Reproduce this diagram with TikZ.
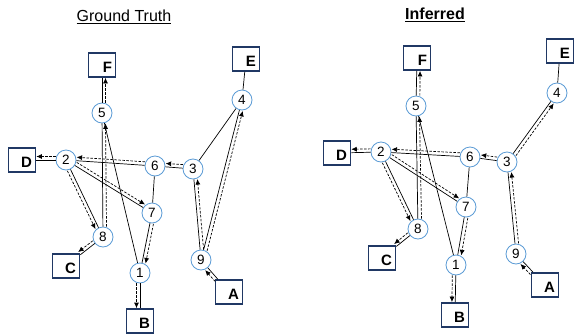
\documentclass[tikz,border=0pt]{standalone}
\usepackage{fontspec}
\setmainfont{Liberation Sans}
\usepackage{xcolor}
\usetikzlibrary{arrows.meta}
\usetikzlibrary{calc}

\definecolor{boxblue}{HTML}{203864}
\definecolor{nodeblue}{HTML}{5B9BD5}

% dashed arrow beside the plain link, #1 picks the side
\newcommand{\flow}[3][-90]{%
  \pgfpointdiff{\pgfpointanchor{#2}{center}}{\pgfpointanchor{#3}{center}}%
  \pgfgetlastxy{\flowdx}{\flowdy}%
  \pgfmathsetmacro{\flowang}{atan2(\flowdy,\flowdx)}%
  \pgfmathsetmacro{\flowback}{\flowang+180}%
  \draw[arrow-flow] ([shift={(\flowang#1:3.5pt)}]#2.\flowang)
    -- ([shift={(\flowang#1:3.5pt)}]#3.\flowback);
}

\begin{document}
\begin{tikzpicture}
  [
    x = 1pt, y = -1pt,
    var/.style = {circle, draw = nodeblue, line width = 0.8pt, fill = white,
                  minimum size = 20pt, inner sep = 0pt,
                  font = \fontsize{13.5}{13.5}\selectfont},
    obs/.style = {rectangle, draw = boxblue, line width = 1.7pt, fill = white,
                  minimum height = 24pt, text width = 20pt, inner xsep = 3.5pt,
                  inner ysep = 0pt, text height = 14pt, text depth = 0pt,
                  align = right,
                  font = \fontsize{15}{15}\selectfont\bfseries},
    title/.style = {font = \fontsize{16}{16}\selectfont},
    link/.style = {line width = 0.7pt},
    arrow/.style = {> = {Latex[length = 5.5pt, width = 5pt]}, line width = 0.7pt},
    arrow-flow/.style = {arrow, ->, dash pattern = on 2.5pt off 1.5pt},
  ]
  \useasboundingbox (0,0) rectangle (574,333);

  % ground truth
  \node[title] (gt_title) at (124,17) {\underline{Ground Truth}};
  \node[obs] (gF) at (102,65) {F};
  \node[obs] (gE) at (246,59) {E};
  \node[obs] (gD) at (22,160) {D};
  \node[obs] (gC) at (66,266) {C};
  \node[obs] (gB) at (140,321) {B};
  \node[obs] (gA) at (229,292) {A};
  \node[var] (g4) at (242,100) {4};
  \node[var] (g5) at (102,113) {5};
  \node[var] (g2) at (66,160) {2};
  \node[var] (g6) at (155,166) {6};
  \node[var] (g3) at (193,169) {3};
  \node[var] (g7) at (152,213) {7};
  \node[var] (g8) at (103,237) {8};
  \node[var] (g1) at (140,273) {1};
  \node[var] (g9) at (201,260) {9};

  \draw[link] (gA) -- (g9);  \flow[+90]{gA}{g9}
  \draw[link] (g9) -- (g3);  \flow{g9}{g3}
  \draw[link] (g9) -- (g4);  \flow{g9}{g4}
  \draw[link] (g3) -- (g4);
  \draw[link] (g4) -- (gE);
  \draw[link] (g3) -- (g6);  \flow{g3}{g6}
  \draw[link] (g6) -- (g2);  \flow{g6}{g2}
  \draw[link] (g2) -- (gD);  \flow{g2}{gD}
  \draw[link] (g2) -- (g7);  \flow[+90]{g2}{g7}
  \draw[link] (g2) -- (g8);  \flow{g2}{g8}
  \draw[link] (g6) -- (g7);
  \draw[link] (g7) -- (g1);  \flow[+90]{g7}{g1}
  \draw[link] (g1) -- (gB);  \flow{g1}{gB}
  \draw[link] (g1) -- (g5);
  \draw[link] (g8) -- (g5);  \flow{g8}{g5}
  \draw[link] (g5) -- (gF);  \flow{g5}{gF}
  \draw[link] (g8) -- (gC);  \flow{g8}{gC}

  % inferred
  \node[title] (inf_title) at (435,15) {\bfseries\underline{Inferred}};
  \node[obs] (iF) at (417,58) {F};
  \node[obs] (iE) at (560,51) {E};
  \node[obs] (iD) at (337,153) {D};
  \node[obs] (iC) at (382,258) {C};
  \node[obs] (iB) at (455,315) {B};
  \node[obs] (iA) at (545,285) {A};
  \node[var] (i4) at (557,93) {4};
  \node[var] (i5) at (416,106) {5};
  \node[var] (i2) at (381,152) {2};
  \node[var] (i6) at (470,157) {6};
  \node[var] (i3) at (507,162) {3};
  \node[var] (i7) at (466,207) {7};
  \node[var] (i8) at (418,229) {8};
  \node[var] (i1) at (456,265) {1};
  \node[var] (i9) at (516,254) {9};

  \draw[link] (iA) -- (i9);  \flow[+90]{iA}{i9}
  \draw[link] (i9) -- (i3);  \flow{i9}{i3}
  \draw[link] (i3) -- (i4);  \flow{i3}{i4}
  \draw[link] (i4) -- (iE);
  \draw[link] (i3) -- (i6);  \flow{i3}{i6}
  \draw[link] (i6) -- (i2);  \flow{i6}{i2}
  \draw[link] (i2) -- (iD);  \flow{i2}{iD}
  \draw[link] (i2) -- (i7);  \flow[+90]{i2}{i7}
  \draw[link] (i2) -- (i8);  \flow{i2}{i8}
  \draw[link] (i6) -- (i7);
  \draw[link] (i7) -- (i1);  \flow[+90]{i7}{i1}
  \draw[link] (i1) -- (iB);  \flow{i1}{iB}
  \draw[link] (i1) -- (i5);
  \draw[link] (i8) -- (i5);  \flow{i8}{i5}
  \draw[link] (i5) -- (iF);  \flow{i5}{iF}
  \draw[link] (i8) -- (iC);  \flow{i8}{iC}
\end{tikzpicture}
\end{document}
